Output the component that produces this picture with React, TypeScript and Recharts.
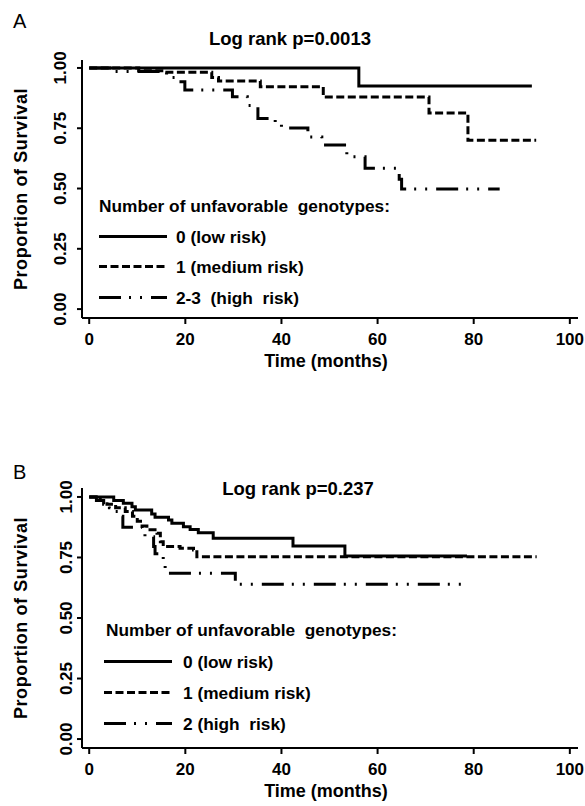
import { LineChart, Line, XAxis, YAxis, Legend } from 'recharts';

const FONT = "'Liberation Sans', Arial, Helvetica, sans-serif";

const xTicks = [0, 20, 40, 60, 80, 100];
const yTicks = [0, 0.25, 0.5, 0.75, 1];

// panel A: survival curves (time in months, proportion surviving)
const aLowTime = [0, 56.1, 92.1];
const aLowSurv = [1, 0.925, 0.925];
const aMedTime = [0, 10.3, 15.5, 25.5, 26.9, 35.6, 48.7, 70.7, 78.8, 93];
const aMedSurv = [1, 0.988, 0.982, 0.96, 0.946, 0.922, 0.88, 0.813, 0.7, 0.7];
const aHighTime = [0, 5, 16.1, 17.9, 19.9, 29.8, 32.9, 35.1, 38.7, 40, 45.5, 48.4, 53.6, 57.4, 64.5, 65, 85.4];
const aHighSurv = [1, 0.985, 0.96, 0.943, 0.909, 0.881, 0.844, 0.79, 0.768, 0.751, 0.714, 0.68, 0.632, 0.584, 0.538, 0.498, 0.498];
const aLabels = ['0 (low risk)', '1 (medium risk)', '2-3  (high  risk)'];

// panel B
const bLowTime = [0, 5.1, 7.1, 8.9, 9.6, 13, 13.7, 16.5, 17.2, 19.6, 21, 22.7, 25.8, 42.4, 53.2, 78.6];
const bLowSurv = [1, 0.985, 0.974, 0.96, 0.946, 0.93, 0.916, 0.905, 0.891, 0.877, 0.866, 0.852, 0.829, 0.797, 0.756, 0.756];
const bMedTime = [0, 2.3, 3.7, 5.5, 7.5, 9, 10, 11, 12, 14.1, 14.8, 15.4, 18.9, 21.7, 22.4, 93.1];
const bMedSurv = [1, 0.985, 0.97, 0.955, 0.94, 0.92, 0.9, 0.88, 0.865, 0.85, 0.815, 0.795, 0.788, 0.781, 0.753, 0.753];
const bHighTime = [0, 1.5, 3, 4.2, 5.2, 6.3, 7, 11, 11.6, 13.4, 13.7, 15.4, 15.8, 30.4, 78.6];
const bHighSurv = [1, 0.985, 0.97, 0.955, 0.94, 0.92, 0.875, 0.85, 0.836, 0.795, 0.765, 0.726, 0.685, 0.639, 0.639];
const bLabels = ['0 (low risk)', '1 (medium risk)', '2 (high  risk)'];

const dashes = ['', '8 3.5', '22 8 2 9 2 9'];
const legendTitle = 'Number of unfavorable  genotypes:';

type Pt = { t: number; s: number };

function toPoints(t: number[], s: number[]): Pt[] {
  return t.map((v, i) => ({ t: v, s: s[i] }));
}

interface PanelCfg {
  letter: string;
  letterY: number;
  title: string;
  titleX: number;
  titleY: number;
  top: number;
  yDomain: [number, number];
  tickBase: number;
  series: Pt[][];
  labels: string[];
  legendX: number;
  lineX: [number, number];
  labelX: number;
  headY: number;
  rowY: number[];
}

const panels: PanelCfg[] = [
  {
    letter: 'A', letterY: 28, title: 'Log rank p=0.0013', titleX: 290, titleY: 45,
    top: 60, yDomain: [-0.037, 1.033], tickBase: 66,
    series: [toPoints(aLowTime, aLowSurv), toPoints(aMedTime, aMedSurv), toPoints(aHighTime, aHighSurv)],
    labels: aLabels, legendX: 99, lineX: [99, 167], labelX: 176, headY: 212, rowY: [243, 273, 304],
  },
  {
    letter: 'B', letterY: 49, title: 'Log rank p=0.237', titleX: 298, titleY: 65,
    top: 58, yDomain: [-0.037, 1.037], tickBase: 72,
    series: [toPoints(bLowTime, bLowSurv), toPoints(bMedTime, bMedSurv), toPoints(bHighTime, bHighSurv)],
    labels: bLabels, legendX: 106, lineX: [104, 172], labelX: 183, headY: 206, rowY: [238, 269, 300],
  },
];

function YTick({ y, payload, base }: any) {
  return (
    <text x={base} y={y} transform={`rotate(-90, ${base}, ${y})`} textAnchor="middle"
      fontFamily={FONT} fontWeight="bold" fontSize={17} fill="#000">
      {Number(payload.value).toFixed(2)}
    </text>
  );
}

function XTick({ x, y, payload }: any) {
  return (
    <text x={x} y={y} dy={19} textAnchor="middle" fontFamily={FONT} fontWeight="bold" fontSize={17} fill="#000">
      {payload.value}
    </text>
  );
}

function Panel({ cfg }: { cfg: PanelCfg }) {
  const renderLegend = () => (
    <svg width={585} height={400} style={{ position: 'absolute', left: 0, top: 0, pointerEvents: 'none' }}>
      <text x={cfg.legendX} y={cfg.headY} fontFamily={FONT} fontWeight="bold" fontSize={17.3} fill="#000"
        style={{ whiteSpace: 'pre' }}>
        {legendTitle}
      </text>
      {cfg.labels.map((lab, i) => (
        <g key={lab}>
          <line x1={cfg.lineX[0]} x2={cfg.lineX[1]} y1={cfg.rowY[i] - 6.5} y2={cfg.rowY[i] - 6.5}
            stroke="#000" strokeWidth={3} strokeDasharray={dashes[i] || undefined} />
          <text x={cfg.labelX} y={cfg.rowY[i]} fontFamily={FONT} fontWeight="bold" fontSize={17.3} fill="#000"
            style={{ whiteSpace: 'pre' }}>
            {lab}
          </text>
        </g>
      ))}
    </svg>
  );

  return (
    <div style={{ position: 'relative', width: 585, height: 400 }}>
      <LineChart width={585} height={400} margin={{ top: cfg.top, right: 7, left: 0, bottom: 0 }}>
        <XAxis
          type="number"
          dataKey="t"
          domain={[-1.5, 101.7]}
          ticks={xTicks}
          height={82}
          tickSize={6}
          tick={<XTick />}
          axisLine={{ stroke: '#000', strokeWidth: 2 }}
          tickLine={{ stroke: '#000', strokeWidth: 2 }}
          allowDataOverflow
          label={{
            content: ({ viewBox }: any) => (
              <text x={viewBox.x + viewBox.width / 2 - 4} y={viewBox.y + 49} textAnchor="middle"
                fontFamily={FONT} fontWeight="bold" fontSize={18} fill="#000">
                Time (months)
              </text>
            ),
          }}
        />
        <YAxis
          type="number"
          dataKey="s"
          domain={cfg.yDomain}
          ticks={yTicks}
          width={82}
          tickSize={5}
          tick={<YTick base={cfg.tickBase} />}
          axisLine={{ stroke: '#000', strokeWidth: 2 }}
          tickLine={{ stroke: '#000', strokeWidth: 2 }}
          allowDataOverflow
          label={{
            content: ({ viewBox }: any) => {
              const cy = viewBox.y + viewBox.height / 2;
              return (
                <text x={27} y={cy} transform={`rotate(-90, 27, ${cy})`} textAnchor="middle"
                  fontFamily={FONT} fontWeight="bold" fontSize={18} letterSpacing={0.6} fill="#000">
                  Proportion of Survival
                </text>
              );
            },
          }}
        />
        <Legend layout="vertical" align="center" verticalAlign="middle" content={renderLegend}
          wrapperStyle={{ position: 'absolute', left: 0, top: 0, width: 585, height: 400 }} />
        {cfg.series.map((pts, i) => (
          <Line
            key={i}
            data={pts}
            dataKey="s"
            type="stepAfter"
            stroke="#000"
            strokeWidth={3}
            strokeDasharray={dashes[i] || undefined}
            strokeLinecap="butt"
            dot={false}
            activeDot={false}
            isAnimationActive={false}
          />
        ))}
      </LineChart>
      <svg width={585} height={400} style={{ position: 'absolute', left: 0, top: 0, pointerEvents: 'none' }}>
        <text x={13} y={cfg.letterY} fontFamily={FONT} fontSize={20} fill="#000">{cfg.letter}</text>
        <text x={cfg.titleX} y={cfg.titleY} textAnchor="middle" fontFamily={FONT} fontWeight="bold"
          fontSize={18.5} fill="#000">
          {cfg.title}
        </text>
      </svg>
    </div>
  );
}

export default function App() {
  return (
    <div style={{ position: 'absolute', left: 0, top: 0, width: 585, height: 806, background: '#fff' }}>
      <div style={{ position: 'absolute', left: 0, top: 0 }}>
        <Panel cfg={panels[0]} />
      </div>
      <div style={{ position: 'absolute', left: 0, top: 430 }}>
        <Panel cfg={panels[1]} />
      </div>
    </div>
  );
}
